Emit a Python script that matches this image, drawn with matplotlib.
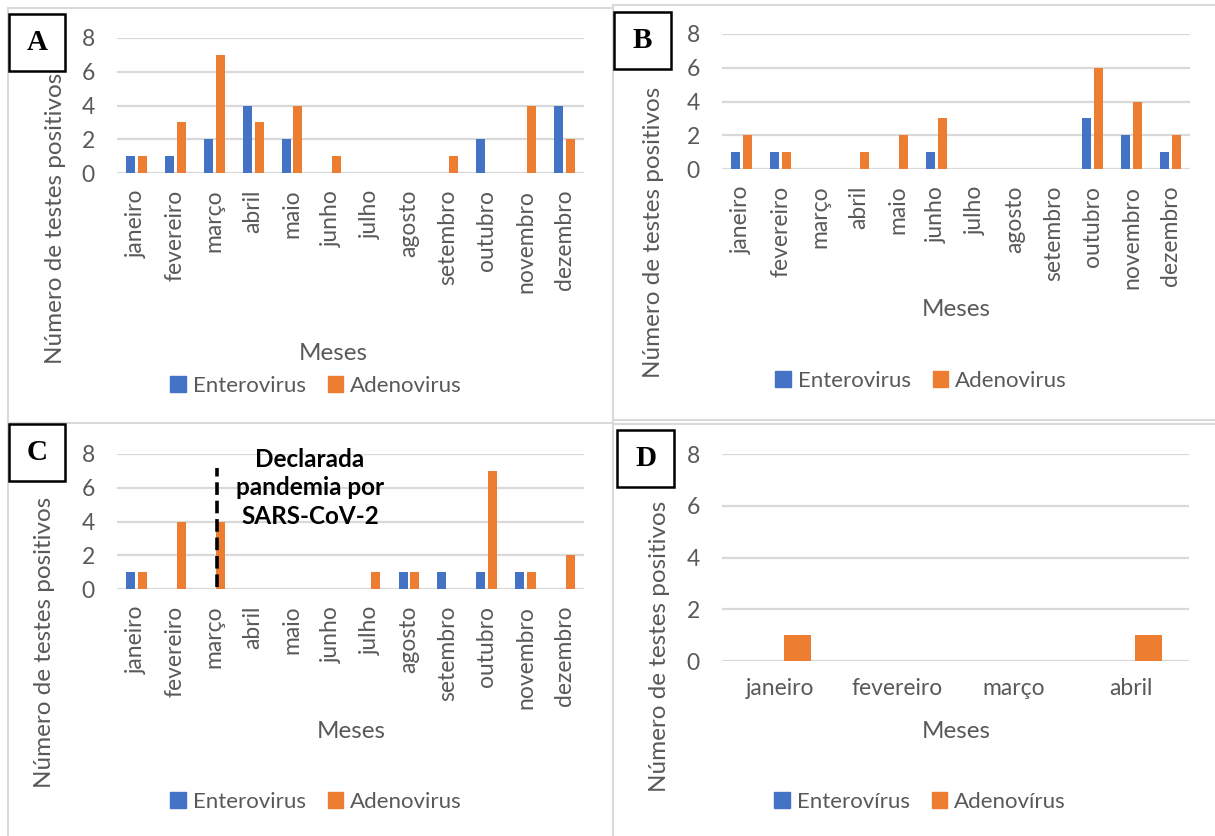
import numpy as np
import matplotlib
matplotlib.use("Agg")
import matplotlib.pyplot as plt
from matplotlib.lines import Line2D
from matplotlib.patches import Patch, Rectangle

# monthly counts of positive tests
meses = ["janeiro", "fevereiro", "março", "abril", "maio", "junho", "julho",
         "agosto", "setembro", "outubro", "novembro", "dezembro"]
meses_d = ["janeiro", "fevereiro", "março", "abril"]

entero_a = [1, 1, 2, 4, 2, 0, 0, 0, 0, 2, 0, 4]
adeno_a = [1, 3, 7, 3, 4, 1, 0, 0, 1, 0, 4, 2]
entero_b = [1, 1, 0, 0, 0, 1, 0, 0, 0, 3, 2, 1]
adeno_b = [2, 1, 0, 1, 2, 3, 0, 0, 0, 6, 4, 2]
entero_c = [1, 0, 0, 0, 0, 0, 0, 1, 1, 1, 1, 0]
adeno_c = [1, 4, 4, 0, 0, 0, 1, 1, 0, 7, 1, 2]
entero_d = [0, 0, 0, 0]
adeno_d = [1, 0, 0, 1]

BLUE = "#4472C4"
ORANGE = "#ED7D31"
GRID = "#D9D9D9"
TEXT = "#595959"
FONT = "Lato"

W, H = 1215, 836
plt.rcParams["font.family"] = [FONT, "DejaVu Sans"]

fig = plt.figure(figsize=(W / 100, H / 100), dpi=100)


def fx(x):
    return x / W


def fy(y):
    return 1 - y / H


def rect(x0, y0, x1, y1):
    return [fx(x0), fy(y1), (x1 - x0) / W, (y1 - y0) / H]


def panel(area, labels, entero, adeno, letter, box, ylab, xlab, leg,
          names=("Enterovirus", "Adenovirus"), rotate=True):
    ax = fig.add_axes(rect(*area))
    x = np.arange(len(labels))
    ax.bar(x - 0.15, entero, width=0.23, color=BLUE, zorder=3)
    ax.bar(x + 0.15, adeno, width=0.23, color=ORANGE, zorder=3)
    ax.set_xlim(-0.5, len(labels) - 0.5)
    ax.set_ylim(0, 8)
    ax.set_yticks(range(0, 9, 2))
    ax.yaxis.grid(True, color=GRID, lw=1.6)
    ax.set_axisbelow(True)
    for s in ax.spines.values():
        s.set_visible(False)
    ax.set_xticks(x, labels, rotation=90 if rotate else 0)
    ax.tick_params(axis="x", length=0, colors=TEXT, labelsize=16.5, pad=12)
    ax.tick_params(axis="y", length=0, colors=TEXT, labelsize=16.5, pad=16)
    for t in ax.get_yticklabels():
        t.set_clip_on(False)

    fig.text(fx(ylab[0]), fy(ylab[1]), "Número de testes positivos",
             rotation=90, ha="center", va="center", color=TEXT, fontsize=17.5)
    fig.text(fx(xlab[0]), fy(xlab[1]), "Meses", ha="center", va="center",
             color=TEXT, fontsize=17.5)
    handles = [Patch(color=BLUE, label=names[0]),
               Patch(color=ORANGE, label=names[1])]
    fig.legend(handles=handles, loc="center", ncol=2, frameon=False,
               bbox_to_anchor=(fx(leg[0]), fy(leg[1])), fontsize=16,
               handlelength=0.7, handleheight=0.7, handletextpad=0.3,
               columnspacing=1.0, labelcolor=TEXT)

    # panel letter in a framed box
    bx0, by0, bx1, by1 = box
    fig.add_artist(Rectangle((fx(bx0), fy(by1)), (bx1 - bx0) / W,
                             (by1 - by0) / H, transform=fig.transFigure,
                             fill=True, facecolor="white", edgecolor="black",
                             lw=1.8, zorder=5))
    fig.text(fx((bx0 + bx1) / 2), fy((by0 + by1) / 2), letter,
             family="Liberation Serif", weight="bold", fontsize=21,
             ha="center", va="center", zorder=6)
    return ax


# light frames around each chart
frames = [((8, 8), (613, 8)), ((613, 5), (1215, 5)), ((8, 8), (8, 836)),
          ((613, 5), (613, 836)), ((8, 423), (613, 423)),
          ((613, 420), (1215, 420)), ((613, 424), (1215, 424))]
for (x0, y0), (x1, y1) in frames:
    fig.add_artist(Line2D([fx(x0), fx(x1)], [fy(y0), fy(y1)],
                          color=GRID, lw=1.5))

panel((117, 38, 584, 173), meses, entero_a, adeno_a, "A",
      (9, 14, 65, 71), (55, 218), (333, 353), (316, 386))
panel((722, 34, 1190, 169), meses, entero_b, adeno_b, "B",
      (614, 12, 671, 69), (654, 232), (956, 310), (921, 381))
ax_c = panel((117, 454, 584, 589), meses, entero_c, adeno_c, "C",
             (9, 424, 65, 481), (45, 642), (351, 732), (316, 802))
panel((722, 454, 1189, 661), meses_d, entero_d, adeno_d, "D",
      (617, 430, 674, 487), (660, 646), (956, 732), (920, 802),
      names=("Enterovírus", "Adenovírus"), rotate=False)

# pandemic declaration marker in março
ax_c.plot([2.06, 2.06], [0.1, 7.2], color="black", lw=2.6,
          dashes=(3.5, 1.6), zorder=4, clip_on=False)
ax_c.text(4.46, 6.0, "Declarada\npandemia por\nSARS-CoV-2", ha="center",
          va="center", fontsize=17.5, weight="bold", linespacing=1.3,
          zorder=4, clip_on=False)

fig.savefig("out.png", dpi=100)
